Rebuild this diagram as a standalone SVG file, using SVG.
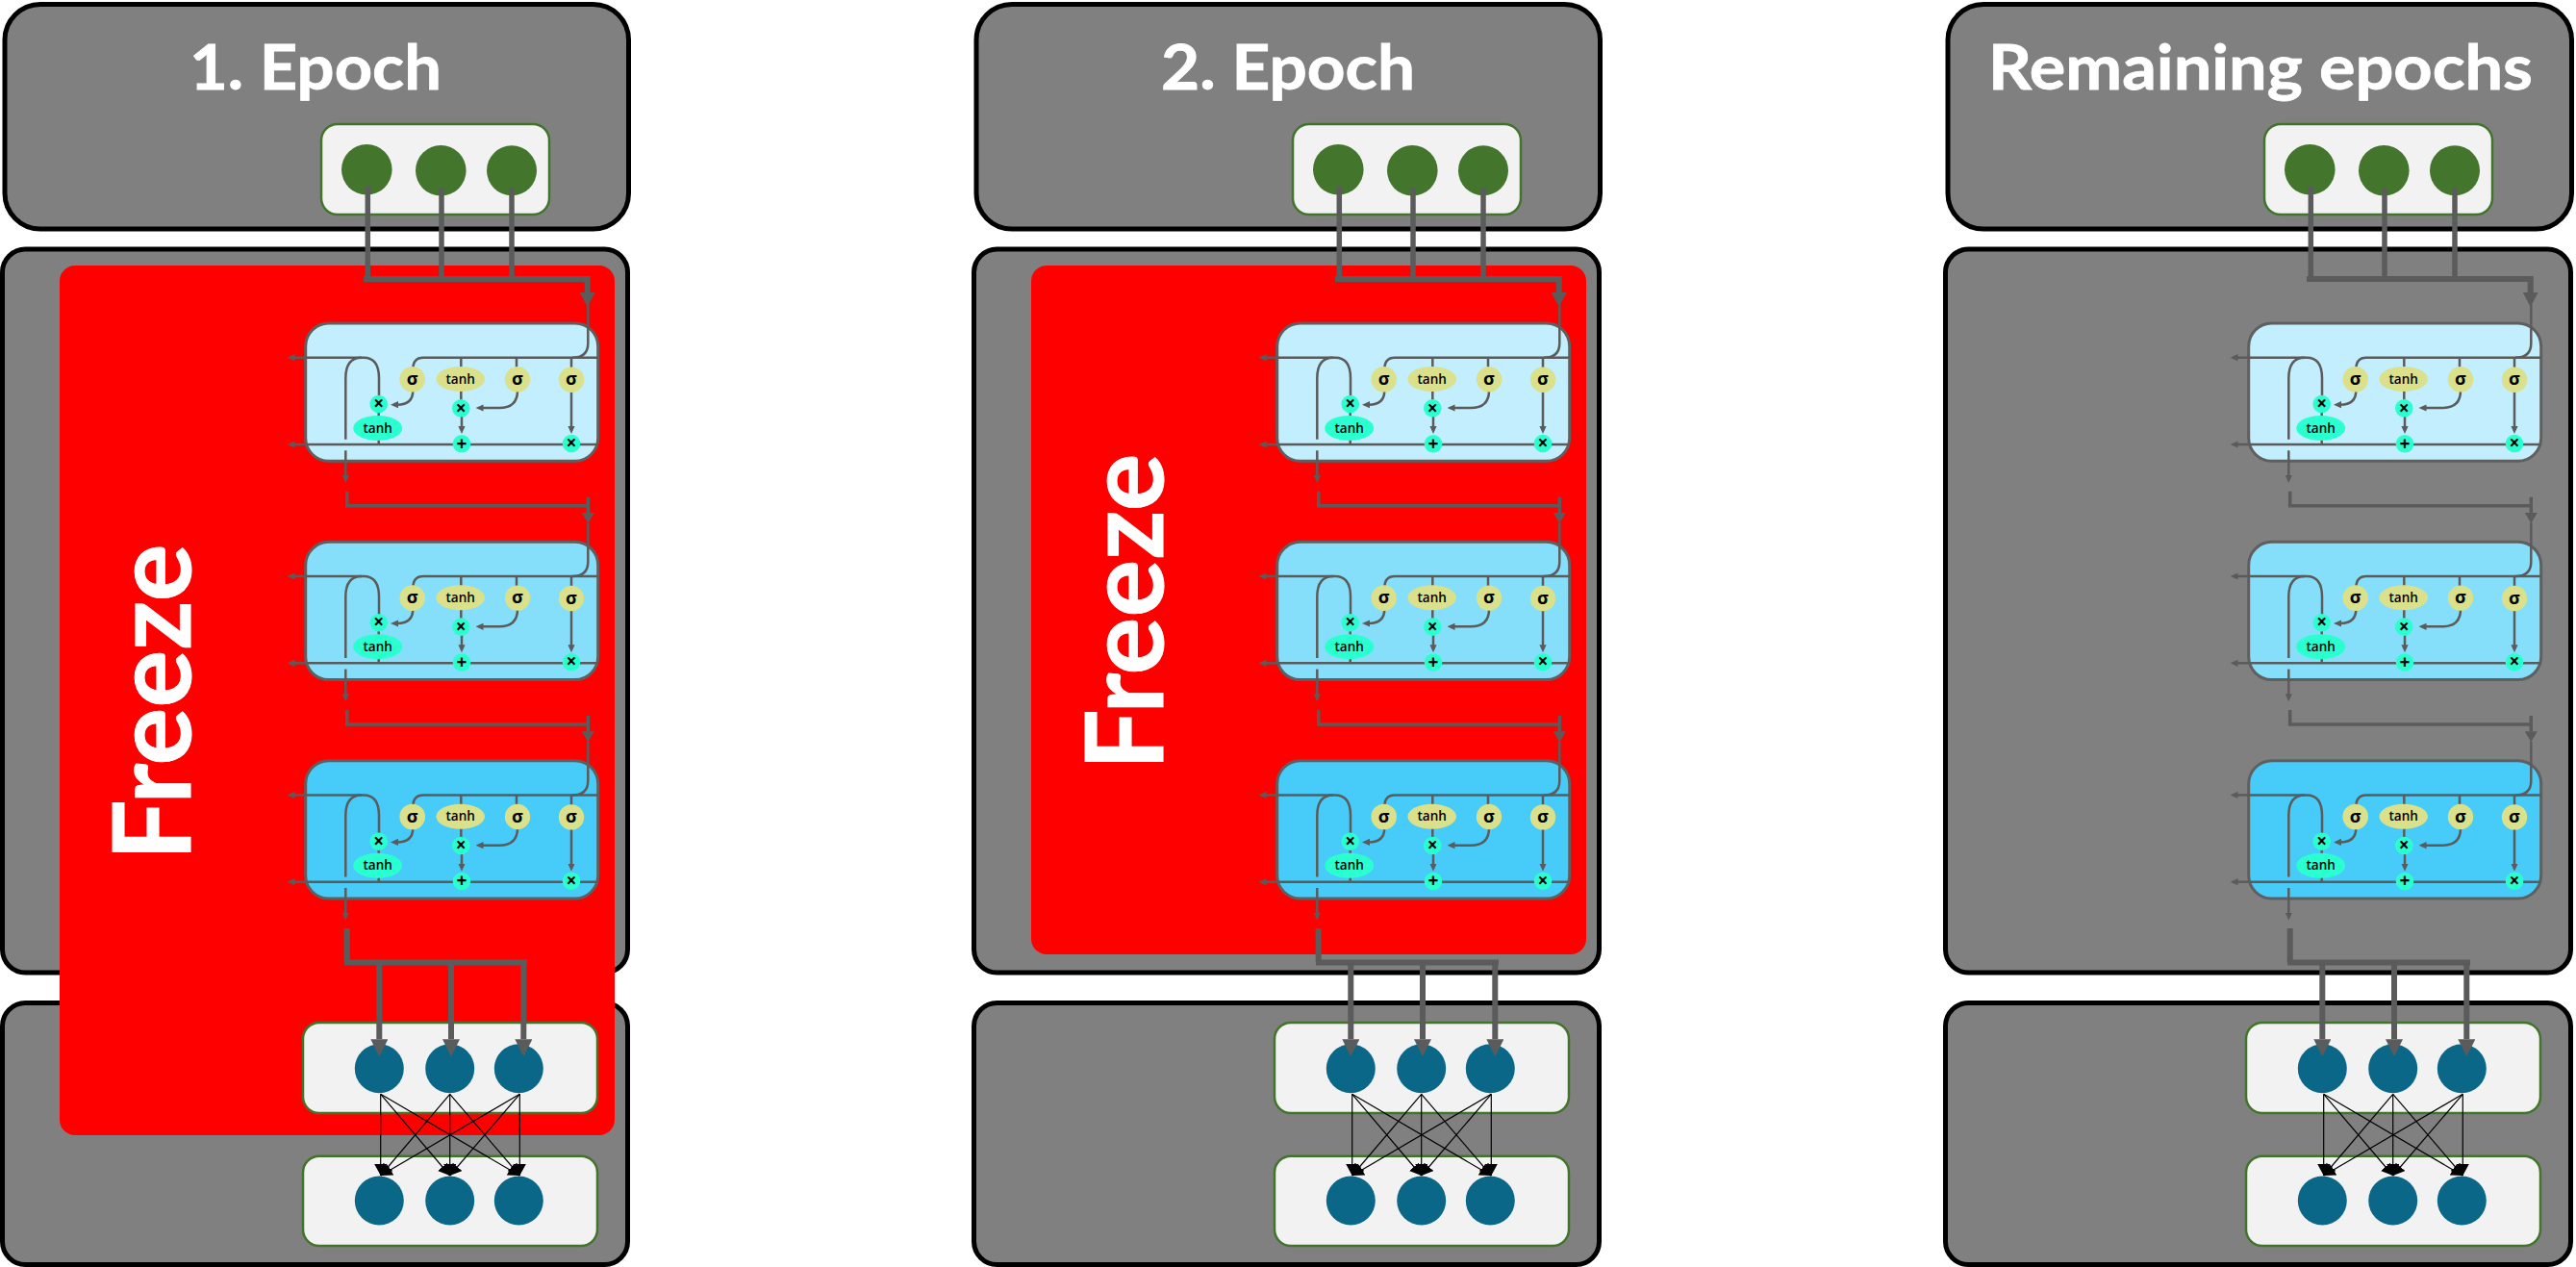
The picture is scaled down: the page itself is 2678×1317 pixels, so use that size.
<svg xmlns="http://www.w3.org/2000/svg" xmlns:xlink="http://www.w3.org/1999/xlink" width="2678" height="1317" viewBox="0 0 2678 1317">
<style>
.box{fill:#808080;stroke:#000;stroke-width:5}
.freeze{fill:#f00}
.layer{fill:#f2f2f2;stroke:#41752a;stroke-width:2.5}
.in{fill:#43762c}
.out{fill:#0a6787}
.title{font-family:"Lato","Liberation Sans",sans-serif;font-weight:700;font-size:65px;fill:#fff;stroke:#fff;stroke-width:0.8;text-anchor:middle}
.ftext{font-family:"Lato","Liberation Sans",sans-serif;font-weight:700;font-size:112px;fill:#fff;stroke:#fff;stroke-width:1;text-anchor:middle}
.cell{stroke:#5f5f5f;stroke-width:3}
.c1{fill:#c2eefd}.c2{fill:#85dffb}.c3{fill:#47cbf9}
.w{fill:none;stroke:#5b5b5b;stroke-width:2.5}
.a{fill:none;stroke:#5b5b5b;stroke-width:2.5;marker-end:url(#sm)}
.y{fill:#dbe08b}.g{fill:#2affd0}
.t,.s,.o{font-family:"Open Sans","Liberation Sans",sans-serif;fill:#000;text-anchor:middle}
.t{font-size:13.5px;font-weight:600}
.s{font-size:18px;font-weight:700}
.o{font-size:19px;font-weight:700}
.thick{fill:none;stroke:#5b5b5b;stroke-width:5.5}
.mid{fill:none;stroke:#5b5b5b;stroke-width:3.5}
.thin{fill:none;stroke:#000;stroke-width:1.2;marker-end:url(#bk)}
</style>
<defs>
<marker id="sm" markerUnits="userSpaceOnUse" markerWidth="8" markerHeight="8" refX="1" refY="4" orient="auto" viewBox="0 0 8 8"><polygon points="0,0.4 8,4 0,7.6" fill="#5b5b5b"/></marker>
<marker id="hd1" markerUnits="userSpaceOnUse" markerWidth="15" markerHeight="16" refX="0" refY="8" orient="auto" viewBox="0 0 15 16"><polygon points="0,0 15,8 0,16" fill="#5b5b5b"/></marker>
<marker id="hd2" markerUnits="userSpaceOnUse" markerWidth="11" markerHeight="13" refX="0" refY="6.5" orient="auto" viewBox="0 0 11 13"><polygon points="0,0 11,6.5 0,13" fill="#5b5b5b"/></marker>
<marker id="hd3" markerUnits="userSpaceOnUse" markerWidth="18" markerHeight="18" refX="0" refY="9" orient="auto" viewBox="0 0 18 18"><polygon points="0,0 18,9 0,18" fill="#5b5b5b"/></marker>
<marker id="bk" markerUnits="userSpaceOnUse" markerWidth="12" markerHeight="13" refX="12" refY="6.5" orient="auto" viewBox="0 0 12 13"><polygon points="0,0 12,6.5 0,13" fill="#000"/></marker>
<g id="wires">
<path class="w" d="M621.7,371.7H440Q429.3,371.7 429.3,384"/>
<path class="w" d="M611.3,316V356.7Q611.3,371.7 595,371.7"/>
<path class="a" d="M318,371.7H305.5"/>
<path class="w" d="M318,371.7H378Q394,371.7 394,393V412"/>
<path class="w" d="M359.3,456.7V393Q359.3,371.7 376,371.7"/>
<path class="a" d="M318,462H305.5"/>
<path class="w" d="M621.7,462H318"/>
<path class="a" d="M359.3,468.3V495"/>
<line class="w" x1="479.3" y1="371.7" x2="479.3" y2="382"/>
<line class="w" x1="537" y1="371.7" x2="537" y2="382"/>
<line class="w" x1="594" y1="371.7" x2="594" y2="382"/>
<line class="w" x1="393.7" y1="428" x2="393.7" y2="434"/>
<line class="w" x1="393.7" y1="457" x2="393.7" y2="462"/>
<line class="w" x1="479.3" y1="406" x2="479.3" y2="416"/>
<path class="a" d="M429.3,406Q429.3,420.7 413,420.7"/>
<path class="a" d="M538,406Q538,424 519,424H501.5"/>
<path class="a" d="M480,432V444"/>
<path class="a" d="M594,406V444"/>
</g>
<g id="ops">
<circle class="y" cx="428.7" cy="394.3" r="13.3"/>
<ellipse class="y" cx="478.7" cy="394" rx="25.3" ry="13"/>
<circle class="y" cx="538" cy="394.3" r="13.2"/>
<circle class="y" cx="594" cy="394.7" r="13.2"/>
<circle class="g" cx="393.7" cy="420" r="9.3"/>
<ellipse class="g" cx="392.7" cy="445" rx="25.5" ry="13"/>
<circle class="g" cx="479.3" cy="424.3" r="9.3"/>
<circle class="g" cx="480" cy="461.3" r="9.3"/>
<circle class="g" cx="594" cy="461" r="9.3"/>
</g>
</defs>

<g id="panel1">
<g id="p1-input-box"><rect class="box" x="5" y="4.5" width="648.5" height="233.5" rx="37"/><text class="title" x="328" y="93" textLength="262" lengthAdjust="spacingAndGlyphs">1. Epoch</text></g>
<g id="p1-lstm-box"><rect class="box" x="2.5" y="259" width="650" height="752" rx="24"/></g>
<g id="p1-output-box"><rect class="box" x="2.5" y="1042.5" width="650" height="272" rx="24"/></g>
<g id="p1-freeze"><rect class="freeze" x="62" y="276" width="577" height="904" rx="16"/><text class="ftext" transform="translate(198.3,730) rotate(-90)">Freeze</text></g>
<g id="p1-input-layer"><rect class="layer" x="334" y="129" width="237" height="94" rx="17"/><circle class="in" cx="381.3" cy="176.3" r="26.3"/><circle class="in" cx="458.3" cy="177.3" r="26.3"/><circle class="in" cx="532" cy="177.3" r="26"/></g>
<g id="p1-cell1"><rect class="cell c1" x="317.7" y="336" width="304" height="143.3" rx="24"/><use href="#wires"/><use href="#ops"/><text class="s" x="428.7" y="400">σ</text><text class="t" x="478.7" y="398.7">tanh</text><text class="s" x="538" y="400">σ</text><text class="s" x="594" y="400.3">σ</text><text class="o" x="393.7" y="426">×</text><text class="t" x="392.7" y="449.7">tanh</text><text class="o" x="479.3" y="430.5">×</text><text class="o" x="480" y="467.5">+</text><text class="o" x="594" y="467">×</text></g>
<g id="p1-cell2" transform="translate(0,227.3)"><rect class="cell c2" x="317.7" y="336" width="304" height="143.3" rx="24"/><use href="#wires"/><use href="#ops"/><text class="s" x="428.7" y="400">σ</text><text class="t" x="478.7" y="398.7">tanh</text><text class="s" x="538" y="400">σ</text><text class="s" x="594" y="400.3">σ</text><text class="o" x="393.7" y="426">×</text><text class="t" x="392.7" y="449.7">tanh</text><text class="o" x="479.3" y="430.5">×</text><text class="o" x="480" y="467.5">+</text><text class="o" x="594" y="467">×</text></g>
<g id="p1-cell3" transform="translate(0,454.7)"><rect class="cell c3" x="317.7" y="336" width="304" height="143.3" rx="24"/><use href="#wires"/><use href="#ops"/><text class="s" x="428.7" y="400">σ</text><text class="t" x="478.7" y="398.7">tanh</text><text class="s" x="538" y="400">σ</text><text class="s" x="594" y="400.3">σ</text><text class="o" x="393.7" y="426">×</text><text class="t" x="392.7" y="449.7">tanh</text><text class="o" x="479.3" y="430.5">×</text><text class="o" x="480" y="467.5">+</text><text class="o" x="594" y="467">×</text></g>
<g id="p1-dense1"><rect class="layer" x="315" y="1063" width="306" height="94" rx="17"/><circle class="out" cx="394.3" cy="1110.7" r="25.5"/><circle class="out" cx="467.7" cy="1110.7" r="25.5"/><circle class="out" cx="539.3" cy="1110.7" r="25.5"/></g>
<g id="p1-dense2"><rect class="layer" x="315" y="1201.7" width="306" height="93.3" rx="17"/><circle class="out" cx="394.3" cy="1248" r="25.5"/><circle class="out" cx="467.7" cy="1248" r="25.5"/><circle class="out" cx="539.3" cy="1248" r="25.5"/></g>
<g id="p1-connectors">
<path class="thick" d="M382.3,194V290"/><path class="thick" d="M459,195V290"/><path class="thick" d="M532,195V290"/>
<path class="thick" style="stroke-width:6;marker-end:url(#hd1)" d="M378,290H610.7V304"/>
<path class="mid" d="M360.7,510.7V525.7H611.3"/><path class="mid" style="marker-end:url(#hd2)" d="M611.3,516.7V533"/>
<path class="mid" d="M360.7,738V753H611.3"/><path class="mid" style="marker-end:url(#hd2)" d="M611.3,744V760.3"/>
<path class="thick" style="stroke-width:6" d="M360.7,965V1000.5"/><path class="thick" style="stroke-width:6" d="M358,1000.5H548"/>
<path class="thick" style="stroke-width:6;marker-end:url(#hd3)" d="M394.3,1000.5V1080.3"/><path class="thick" style="stroke-width:6;marker-end:url(#hd3)" d="M469,1000.5V1080.3"/><path class="thick" style="stroke-width:6;marker-end:url(#hd3)" d="M544.3,1000.5V1080.3"/>
<line class="thin" x1="395.7" y1="1137.3" x2="395.7" y2="1222"/><line class="thin" x1="395.7" y1="1137.3" x2="467.7" y2="1222"/><line class="thin" x1="395.7" y1="1137.3" x2="540.3" y2="1222"/>
<line class="thin" x1="467.7" y1="1137.3" x2="395.7" y2="1222"/><line class="thin" x1="467.7" y1="1137.3" x2="467.7" y2="1222"/><line class="thin" x1="467.7" y1="1137.3" x2="540.3" y2="1222"/>
<line class="thin" x1="540.3" y1="1137.3" x2="395.7" y2="1222"/><line class="thin" x1="540.3" y1="1137.3" x2="467.7" y2="1222"/><line class="thin" x1="540.3" y1="1137.3" x2="540.3" y2="1222"/>
</g>
</g>

<g id="panel2" transform="translate(1010,0)">
<g id="p2-input-box"><rect class="box" x="5" y="4.5" width="648.5" height="233.5" rx="37"/><text class="title" x="329" y="93" textLength="264" lengthAdjust="spacingAndGlyphs">2. Epoch</text></g>
<g id="p2-lstm-box"><rect class="box" x="2.5" y="259" width="650" height="752" rx="24"/></g>
<g id="p2-output-box"><rect class="box" x="2.5" y="1042.5" width="650" height="272" rx="24"/></g>
<g id="p2-freeze"><rect class="freeze" x="62" y="276" width="577" height="716" rx="16"/><text class="ftext" transform="translate(199,636) rotate(-90)">Freeze</text></g>
<g id="p2-input-layer"><rect class="layer" x="334" y="129" width="237" height="94" rx="17"/><circle class="in" cx="381.3" cy="176.3" r="26.3"/><circle class="in" cx="458.3" cy="177.3" r="26.3"/><circle class="in" cx="532" cy="177.3" r="26"/></g>
<g id="p2-cell1"><rect class="cell c1" x="317.7" y="336" width="304" height="143.3" rx="24"/><use href="#wires"/><use href="#ops"/><text class="s" x="428.7" y="400">σ</text><text class="t" x="478.7" y="398.7">tanh</text><text class="s" x="538" y="400">σ</text><text class="s" x="594" y="400.3">σ</text><text class="o" x="393.7" y="426">×</text><text class="t" x="392.7" y="449.7">tanh</text><text class="o" x="479.3" y="430.5">×</text><text class="o" x="480" y="467.5">+</text><text class="o" x="594" y="467">×</text></g>
<g id="p2-cell2" transform="translate(0,227.3)"><rect class="cell c2" x="317.7" y="336" width="304" height="143.3" rx="24"/><use href="#wires"/><use href="#ops"/><text class="s" x="428.7" y="400">σ</text><text class="t" x="478.7" y="398.7">tanh</text><text class="s" x="538" y="400">σ</text><text class="s" x="594" y="400.3">σ</text><text class="o" x="393.7" y="426">×</text><text class="t" x="392.7" y="449.7">tanh</text><text class="o" x="479.3" y="430.5">×</text><text class="o" x="480" y="467.5">+</text><text class="o" x="594" y="467">×</text></g>
<g id="p2-cell3" transform="translate(0,454.7)"><rect class="cell c3" x="317.7" y="336" width="304" height="143.3" rx="24"/><use href="#wires"/><use href="#ops"/><text class="s" x="428.7" y="400">σ</text><text class="t" x="478.7" y="398.7">tanh</text><text class="s" x="538" y="400">σ</text><text class="s" x="594" y="400.3">σ</text><text class="o" x="393.7" y="426">×</text><text class="t" x="392.7" y="449.7">tanh</text><text class="o" x="479.3" y="430.5">×</text><text class="o" x="480" y="467.5">+</text><text class="o" x="594" y="467">×</text></g>
<g id="p2-dense1"><rect class="layer" x="315" y="1063" width="306" height="94" rx="17"/><circle class="out" cx="394.3" cy="1110.7" r="25.5"/><circle class="out" cx="467.7" cy="1110.7" r="25.5"/><circle class="out" cx="539.3" cy="1110.7" r="25.5"/></g>
<g id="p2-dense2"><rect class="layer" x="315" y="1201.7" width="306" height="93.3" rx="17"/><circle class="out" cx="394.3" cy="1248" r="25.5"/><circle class="out" cx="467.7" cy="1248" r="25.5"/><circle class="out" cx="539.3" cy="1248" r="25.5"/></g>
<g id="p2-connectors">
<path class="thick" d="M382.3,194V290"/><path class="thick" d="M459,195V290"/><path class="thick" d="M532,195V290"/>
<path class="thick" style="stroke-width:6;marker-end:url(#hd1)" d="M378,290H610.7V304"/>
<path class="mid" d="M360.7,510.7V525.7H611.3"/><path class="mid" style="marker-end:url(#hd2)" d="M611.3,516.7V533"/>
<path class="mid" d="M360.7,738V753H611.3"/><path class="mid" style="marker-end:url(#hd2)" d="M611.3,744V760.3"/>
<path class="thick" style="stroke-width:6" d="M360.7,965V1000.5"/><path class="thick" style="stroke-width:6" d="M358,1000.5H548"/>
<path class="thick" style="stroke-width:6;marker-end:url(#hd3)" d="M394.3,1000.5V1080.3"/><path class="thick" style="stroke-width:6;marker-end:url(#hd3)" d="M469,1000.5V1080.3"/><path class="thick" style="stroke-width:6;marker-end:url(#hd3)" d="M544.3,1000.5V1080.3"/>
<line class="thin" x1="395.7" y1="1137.3" x2="395.7" y2="1222"/><line class="thin" x1="395.7" y1="1137.3" x2="467.7" y2="1222"/><line class="thin" x1="395.7" y1="1137.3" x2="540.3" y2="1222"/>
<line class="thin" x1="467.7" y1="1137.3" x2="395.7" y2="1222"/><line class="thin" x1="467.7" y1="1137.3" x2="467.7" y2="1222"/><line class="thin" x1="467.7" y1="1137.3" x2="540.3" y2="1222"/>
<line class="thin" x1="540.3" y1="1137.3" x2="395.7" y2="1222"/><line class="thin" x1="540.3" y1="1137.3" x2="467.7" y2="1222"/><line class="thin" x1="540.3" y1="1137.3" x2="540.3" y2="1222"/>
</g>
</g>

<g id="panel3" transform="translate(2020,0)">
<g id="p3-input-box"><rect class="box" x="5" y="4.5" width="648.5" height="233.5" rx="37"/><text class="title" x="330" y="93" textLength="566" lengthAdjust="spacingAndGlyphs">Remaining epochs</text></g>
<g id="p3-lstm-box"><rect class="box" x="2.5" y="259" width="650" height="752" rx="24"/></g>
<g id="p3-output-box"><rect class="box" x="2.5" y="1042.5" width="650" height="272" rx="24"/></g>
<g id="p3-input-layer"><rect class="layer" x="334" y="129" width="237" height="94" rx="17"/><circle class="in" cx="381.3" cy="176.3" r="26.3"/><circle class="in" cx="458.3" cy="177.3" r="26.3"/><circle class="in" cx="532" cy="177.3" r="26"/></g>
<g id="p3-cell1"><rect class="cell c1" x="317.7" y="336" width="304" height="143.3" rx="24"/><use href="#wires"/><use href="#ops"/><text class="s" x="428.7" y="400">σ</text><text class="t" x="478.7" y="398.7">tanh</text><text class="s" x="538" y="400">σ</text><text class="s" x="594" y="400.3">σ</text><text class="o" x="393.7" y="426">×</text><text class="t" x="392.7" y="449.7">tanh</text><text class="o" x="479.3" y="430.5">×</text><text class="o" x="480" y="467.5">+</text><text class="o" x="594" y="467">×</text></g>
<g id="p3-cell2" transform="translate(0,227.3)"><rect class="cell c2" x="317.7" y="336" width="304" height="143.3" rx="24"/><use href="#wires"/><use href="#ops"/><text class="s" x="428.7" y="400">σ</text><text class="t" x="478.7" y="398.7">tanh</text><text class="s" x="538" y="400">σ</text><text class="s" x="594" y="400.3">σ</text><text class="o" x="393.7" y="426">×</text><text class="t" x="392.7" y="449.7">tanh</text><text class="o" x="479.3" y="430.5">×</text><text class="o" x="480" y="467.5">+</text><text class="o" x="594" y="467">×</text></g>
<g id="p3-cell3" transform="translate(0,454.7)"><rect class="cell c3" x="317.7" y="336" width="304" height="143.3" rx="24"/><use href="#wires"/><use href="#ops"/><text class="s" x="428.7" y="400">σ</text><text class="t" x="478.7" y="398.7">tanh</text><text class="s" x="538" y="400">σ</text><text class="s" x="594" y="400.3">σ</text><text class="o" x="393.7" y="426">×</text><text class="t" x="392.7" y="449.7">tanh</text><text class="o" x="479.3" y="430.5">×</text><text class="o" x="480" y="467.5">+</text><text class="o" x="594" y="467">×</text></g>
<g id="p3-dense1"><rect class="layer" x="315" y="1063" width="306" height="94" rx="17"/><circle class="out" cx="394.3" cy="1110.7" r="25.5"/><circle class="out" cx="467.7" cy="1110.7" r="25.5"/><circle class="out" cx="539.3" cy="1110.7" r="25.5"/></g>
<g id="p3-dense2"><rect class="layer" x="315" y="1201.7" width="306" height="93.3" rx="17"/><circle class="out" cx="394.3" cy="1248" r="25.5"/><circle class="out" cx="467.7" cy="1248" r="25.5"/><circle class="out" cx="539.3" cy="1248" r="25.5"/></g>
<g id="p3-connectors">
<path class="thick" d="M382.3,194V290"/><path class="thick" d="M459,195V290"/><path class="thick" d="M532,195V290"/>
<path class="thick" style="stroke-width:6;marker-end:url(#hd1)" d="M378,290H610.7V304"/>
<path class="mid" d="M360.7,510.7V525.7H611.3"/><path class="mid" style="marker-end:url(#hd2)" d="M611.3,516.7V533"/>
<path class="mid" d="M360.7,738V753H611.3"/><path class="mid" style="marker-end:url(#hd2)" d="M611.3,744V760.3"/>
<path class="thick" style="stroke-width:6" d="M360.7,965V1000.5"/><path class="thick" style="stroke-width:6" d="M358,1000.5H548"/>
<path class="thick" style="stroke-width:6;marker-end:url(#hd3)" d="M394.3,1000.5V1080.3"/><path class="thick" style="stroke-width:6;marker-end:url(#hd3)" d="M469,1000.5V1080.3"/><path class="thick" style="stroke-width:6;marker-end:url(#hd3)" d="M544.3,1000.5V1080.3"/>
<line class="thin" x1="395.7" y1="1137.3" x2="395.7" y2="1222"/><line class="thin" x1="395.7" y1="1137.3" x2="467.7" y2="1222"/><line class="thin" x1="395.7" y1="1137.3" x2="540.3" y2="1222"/>
<line class="thin" x1="467.7" y1="1137.3" x2="395.7" y2="1222"/><line class="thin" x1="467.7" y1="1137.3" x2="467.7" y2="1222"/><line class="thin" x1="467.7" y1="1137.3" x2="540.3" y2="1222"/>
<line class="thin" x1="540.3" y1="1137.3" x2="395.7" y2="1222"/><line class="thin" x1="540.3" y1="1137.3" x2="467.7" y2="1222"/><line class="thin" x1="540.3" y1="1137.3" x2="540.3" y2="1222"/>
</g>
</g>
</svg>
